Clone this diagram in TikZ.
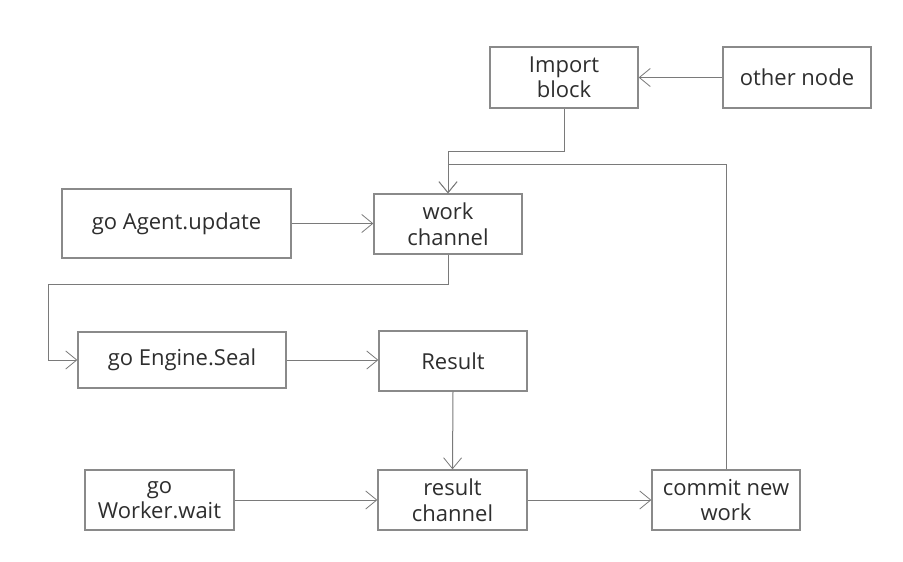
\documentclass[tikz,border=0pt]{standalone}
\usepackage{fontspec}
\setmainfont{Open Sans}
\usetikzlibrary{arrows.meta}
\definecolor{boxline}{HTML}{8A8A8A}
\definecolor{conline}{HTML}{7A7A7A}
\definecolor{txt}{HTML}{2E2E2E}
\tikzset{
  box/.style={draw=boxline, line width=1.3pt, fill=white, text=txt, align=center,
    inner sep=0pt, font=\fontsize{22}{25.5}\selectfont},
  conn/.style={draw=conline, line width=1pt, -{Straight Barb[length=11pt,width=18pt,line width=0.8pt]}},
}
\begin{document}
\begin{tikzpicture}[x=1pt,y=-1pt]
\useasboundingbox (0,0) rectangle (903,562);
\fill[white] (0,0) rectangle (903,562);
\node[box, minimum width=148pt, minimum height=61pt] (imp) at (564,77.5) {Import\\block};
\node[box, minimum width=148pt, minimum height=61pt] (other) at (797,77.5) {other node};
\node[box, minimum width=229pt, minimum height=69pt] (agent) at (176.5,223.5) {go Agent.update};
\node[box, minimum width=148pt, minimum height=60pt] (work) at (448,224) {work\\channel};
\node[box, minimum width=208pt, minimum height=56pt] (seal) at (182,360) {go Engine.Seal};
\node[box, minimum width=148pt, minimum height=60pt] (result) at (453,361) {Result};
\node[box, minimum width=149pt, minimum height=60pt] (wait) at (159.5,500) {go\\Worker.wait};
\node[box, minimum width=149pt, minimum height=60pt] (rch) at (452.5,500) {result\\channel};
\node[box, minimum width=148pt, minimum height=60pt] (commit) at (726,500) {commit new\\work};
\coordinate (j1) at (448,151);
\coordinate (j2) at (448,164);
\coordinate (j3) at (48,284);
\draw[conn] (other.west) -- (imp.east);
\draw[conn] (imp.south) |- (j1) -- (work.north);
\draw[conn] (commit.north) |- (j2) -- (work.north);
\draw[conn] (agent.east) -- (agent.east -| work.west);
\draw[conn] (work.south) |- (j3) |- (seal.west);
\draw[conn] (seal.east) -- (seal.east -| result.west);
\draw[conn] (result.south) -- (rch.north);
\draw[conn] (wait.east) -- (rch.west);
\draw[conn] (rch.east) -- (commit.west);
\end{tikzpicture}
\end{document}
